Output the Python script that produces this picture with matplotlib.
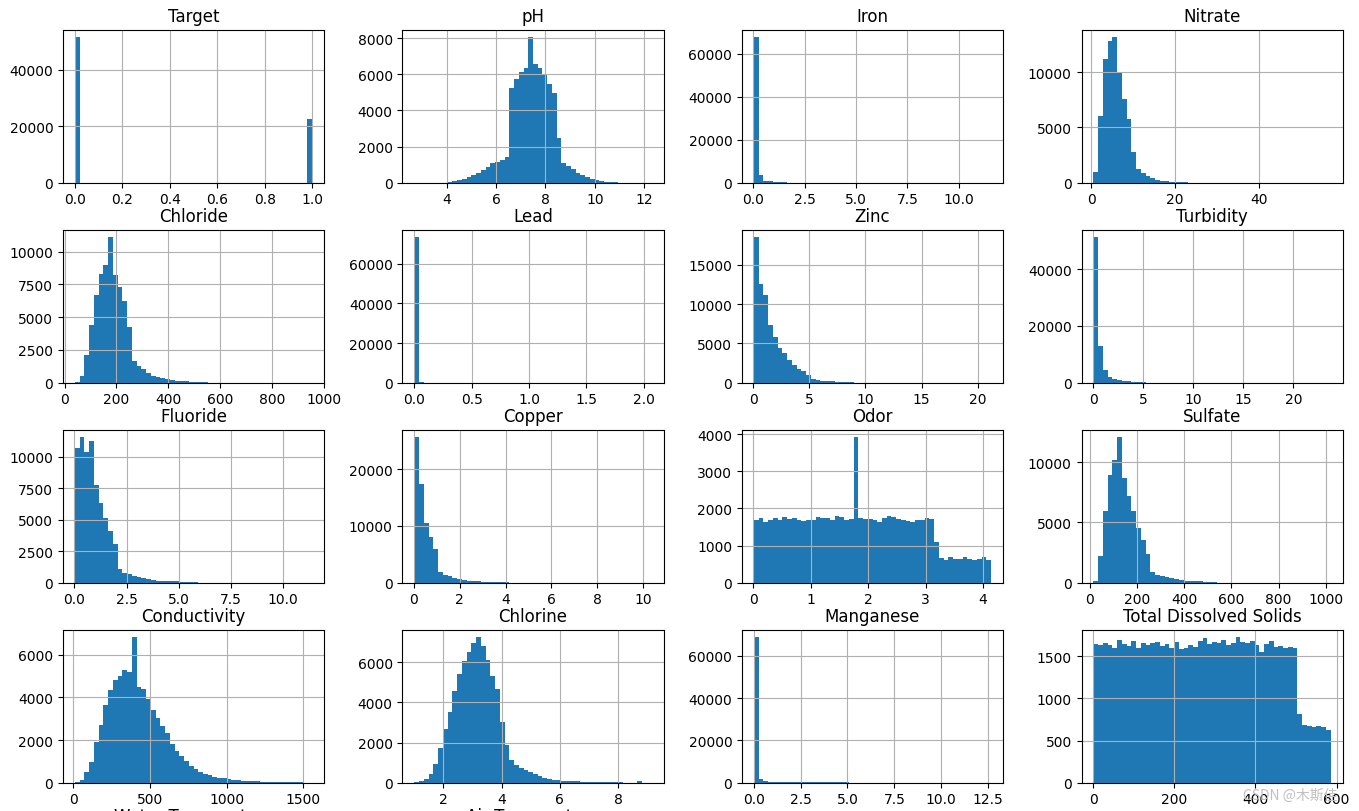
import numpy as np
import matplotlib
matplotlib.use("Agg")
import matplotlib.pyplot as plt

# ---------------- data (50-bin histogram counts) ----------------
titles = ["Target", "pH", "Iron", "Nitrate",
          "Chloride", "Lead", "Zinc", "Turbidity",
          "Fluoride", "Copper", "Odor", "Sulfate",
          "Conductivity", "Chlorine", "Manganese", "Total Dissolved Solids"]
extra_titles = ["Water Temperature", "Air Temperature"]

# value ranges (min, max) of each column
ranges = [(0.0, 1.0), (2.70, 12.29), (0.03, 11.58), (0.52, 57.0),
          (39.4, 956.0), (0.0, 2.07), (0.05, 21.2), (0.02, 23.71),
          (0.02, 11.41), (0.02, 10.38), (0.01, 4.14), (16.3, 1020.0),
          (9.0, 1558.0), (1.01, 9.15), (0.0, 12.67), (0.6, 585.5)]

target = [51600, 0, 0, 0, 0, 0, 0, 0, 0, 0,
          0, 0, 0, 0, 0, 0, 0, 0, 0, 0,
          0, 0, 0, 0, 0, 0, 0, 0, 0, 0,
          0, 0, 0, 0, 0, 0, 0, 0, 0, 0,
          0, 0, 0, 0, 0, 0, 0, 0, 0, 22700]
ph = [1, 1, 1, 2, 2, 3, 5, 60, 90, 150,
      220, 300, 440, 530, 700, 850, 1070, 1160, 1230, 1420,
      5220, 5750, 6140, 6360, 8070, 6600, 6380, 5990, 5460, 4950,
      2450, 1080, 940, 740, 550, 440, 310, 220, 150, 90,
      60, 40, 15, 10, 8, 5, 4, 3, 2, 1]
iron = [67800, 3500, 1000, 650, 550, 450, 150, 80, 50, 30,
        20, 15, 10, 8, 6, 5, 4, 3, 3, 2,
        2, 2, 1, 1, 1, 1, 1, 1, 1, 1,
        1, 1, 1, 1, 1, 1, 1, 1, 1, 1,
        1, 1, 1, 1, 1, 1, 1, 1, 1, 1]
nitrate = [930, 6040, 11230, 12820, 13180, 9970, 7600, 5770, 2790, 1200,
           870, 630, 450, 270, 180, 120, 90, 60, 40, 20,
           10, 8, 5, 4, 3, 2, 2, 1, 1, 1,
           1, 1, 1, 1, 1, 1, 1, 1, 1, 1,
           1, 1, 1, 1, 1, 1, 1, 1, 1, 1]
chloride = [75, 530, 2100, 4380, 6660, 8300, 8940, 11110, 8200, 7270,
            6250, 4250, 1650, 1290, 1010, 760, 530, 430, 330, 250,
            200, 150, 120, 100, 80, 60, 40, 25, 15, 10,
            8, 6, 5, 4, 3, 3, 2, 2, 1, 1,
            1, 1, 1, 1, 1, 1, 1, 1, 1, 1]
lead = [73500, 300, 100, 60, 40, 30, 20, 15, 10, 8,
        6, 5, 5, 4, 4, 3, 3, 3, 2, 2,
        2, 2, 2, 1, 1, 1, 1, 1, 1, 1,
        1, 1, 1, 1, 1, 1, 1, 1, 1, 1,
        1, 1, 1, 1, 1, 1, 1, 1, 1, 1]
zinc = [18550, 12510, 11200, 7310, 5880, 4450, 3800, 2870, 2240, 1690,
        1440, 950, 420, 340, 250, 200, 170, 130, 120, 110,
        30, 20, 10, 8, 5, 4, 3, 2, 2, 1,
        1, 1, 1, 1, 1, 1, 1, 1, 1, 1,
        1, 1, 1, 1, 1, 1, 1, 1, 1, 1]
turbidity = [51350, 13100, 4440, 1870, 1170, 820, 590, 470, 350, 300,
             200, 50, 20, 10, 8, 5, 4, 3, 2, 2,
             1, 1, 1, 1, 1, 1, 1, 1, 1, 1,
             1, 1, 1, 1, 1, 1, 1, 1, 1, 1,
             1, 1, 1, 1, 1, 1, 1, 1, 1, 1]
fluoride = [10660, 11550, 10340, 11240, 7710, 6320, 5100, 4130, 3080, 1080,
            790, 660, 550, 420, 370, 290, 210, 160, 130, 110,
            160, 100, 80, 60, 50, 40, 10, 5, 4, 3,
            2, 2, 1, 1, 1, 1, 1, 1, 1, 1,
            1, 1, 1, 1, 1, 1, 1, 1, 1, 1]
copper = [25670, 17310, 10470, 8010, 5960, 1870, 1350, 1110, 760, 580,
          470, 350, 290, 230, 200, 170, 150, 130, 120, 100,
          10, 5, 4, 3, 2, 2, 1, 1, 1, 1,
          1, 1, 1, 1, 1, 1, 1, 1, 1, 1,
          1, 1, 1, 1, 1, 1, 1, 1, 1, 1]
odor = [1690, 1730, 1630, 1690, 1730, 1690, 1760, 1710, 1730, 1690,
        1660, 1700, 1680, 1760, 1730, 1730, 1690, 1800, 1770, 1690,
        1710, 3920, 1730, 1720, 1710, 1700, 1630, 1730, 1790, 1760,
        1720, 1700, 1650, 1630, 1680, 1680, 1730, 1710, 1100, 670,
        620, 680, 650, 650, 680, 650, 620, 650, 690, 610]
sulfate = [140, 2200, 5950, 8930, 10190, 12090, 8680, 7220, 5950, 4520,
           3550, 2370, 850, 660, 520, 440, 360, 280, 220, 170,
           160, 110, 100, 80, 70, 50, 10, 5, 4, 3,
           2, 2, 1, 1, 1, 1, 1, 1, 1, 1,
           1, 1, 1, 1, 1, 1, 1, 1, 1, 1]
conductivity = [50, 150, 510, 950, 1930, 2700, 3650, 4350, 4800, 5030,
                5310, 5190, 6840, 4500, 4410, 3910, 3410, 3040, 2650, 2310,
                1840, 1500, 1230, 1000, 800, 640, 510, 420, 340, 280,
                230, 200, 170, 140, 120, 100, 80, 70, 60, 50,
                50, 40, 40, 30, 30, 30, 30, 10, 5, 5]
chlorine = [30, 60, 180, 430, 930, 1720, 2660, 3500, 4550, 5410,
            6060, 6500, 6950, 7250, 6790, 6120, 5330, 4640, 3020, 1880,
            1110, 890, 740, 630, 510, 410, 310, 250, 200, 150,
            120, 100, 80, 70, 60, 50, 50, 40, 40, 30,
            30, 30, 30, 20, 5, 5, 5, 60, 5, 5]
manganese = [68900, 1750, 1000, 400, 380, 370, 360, 350, 350, 340,
             330, 330, 320, 320, 310, 310, 300, 300, 290, 290,
             5, 3, 2, 2, 1, 1, 1, 1, 1, 1,
             1, 1, 1, 1, 1, 1, 1, 1, 1, 1,
             1, 1, 1, 1, 1, 1, 1, 1, 1, 1]
tds = [1650, 1630, 1660, 1640, 1600, 1690, 1650, 1620, 1680, 1600,
       1660, 1630, 1660, 1670, 1620, 1650, 1600, 1670, 1590, 1600,
       1640, 1610, 1680, 1720, 1650, 1670, 1660, 1700, 1640, 1660,
       1730, 1670, 1660, 1680, 1640, 1550, 1650, 1680, 1610, 1620,
       1600, 1610, 1600, 820, 680, 670, 660, 670, 660, 630]

counts = [target, ph, iron, nitrate, chloride, lead, zinc, turbidity,
          fluoride, copper, odor, sulfate, conductivity, chlorine, manganese, tds]

# ---------------- layout ----------------
W, H = 1359, 812
fig = plt.figure(figsize=(W / 100, H / 100), dpi=100)

col_left = [63, 402.5, 742, 1081.5]
row_top = [30.7, 230.7, 430.7, 630.7, 830.7]
aw, ah = 261, 153

def add_ax(r, c):
    x0 = col_left[c] / W
    y0 = (H - row_top[r] - ah) / H
    return fig.add_axes([x0, y0, aw / W, ah / H])

for i, (title, cnt, (lo, hi)) in enumerate(zip(titles, counts, ranges)):
    r, c = divmod(i, 4)
    ax = add_ax(r, c)
    edges = np.linspace(lo, hi, len(cnt) + 1)
    ax.hist(edges[:-1], bins=edges, weights=cnt, color="#1f77b4")
    ax.set_title(title, fontsize=12)
    ax.grid(True, color="#b0b0b0", linewidth=0.8)
    ax.tick_params(labelsize=10)

# the next row of the grid starts below the visible area; only its titles peek in
for j, title in enumerate(extra_titles):
    ax = add_ax(4, j)
    ax.set_title(title, fontsize=12)
    ax.set_xticks([])
    ax.set_yticks([])

fig.text(1243 / W, 1 - 796 / H, "CSDN @木斯佳", fontsize=10, color="#c0c0c0",
         family=["Noto Sans CJK SC", "DejaVu Sans"], va="center", ha="left")

fig.savefig("out.png", dpi=100)
